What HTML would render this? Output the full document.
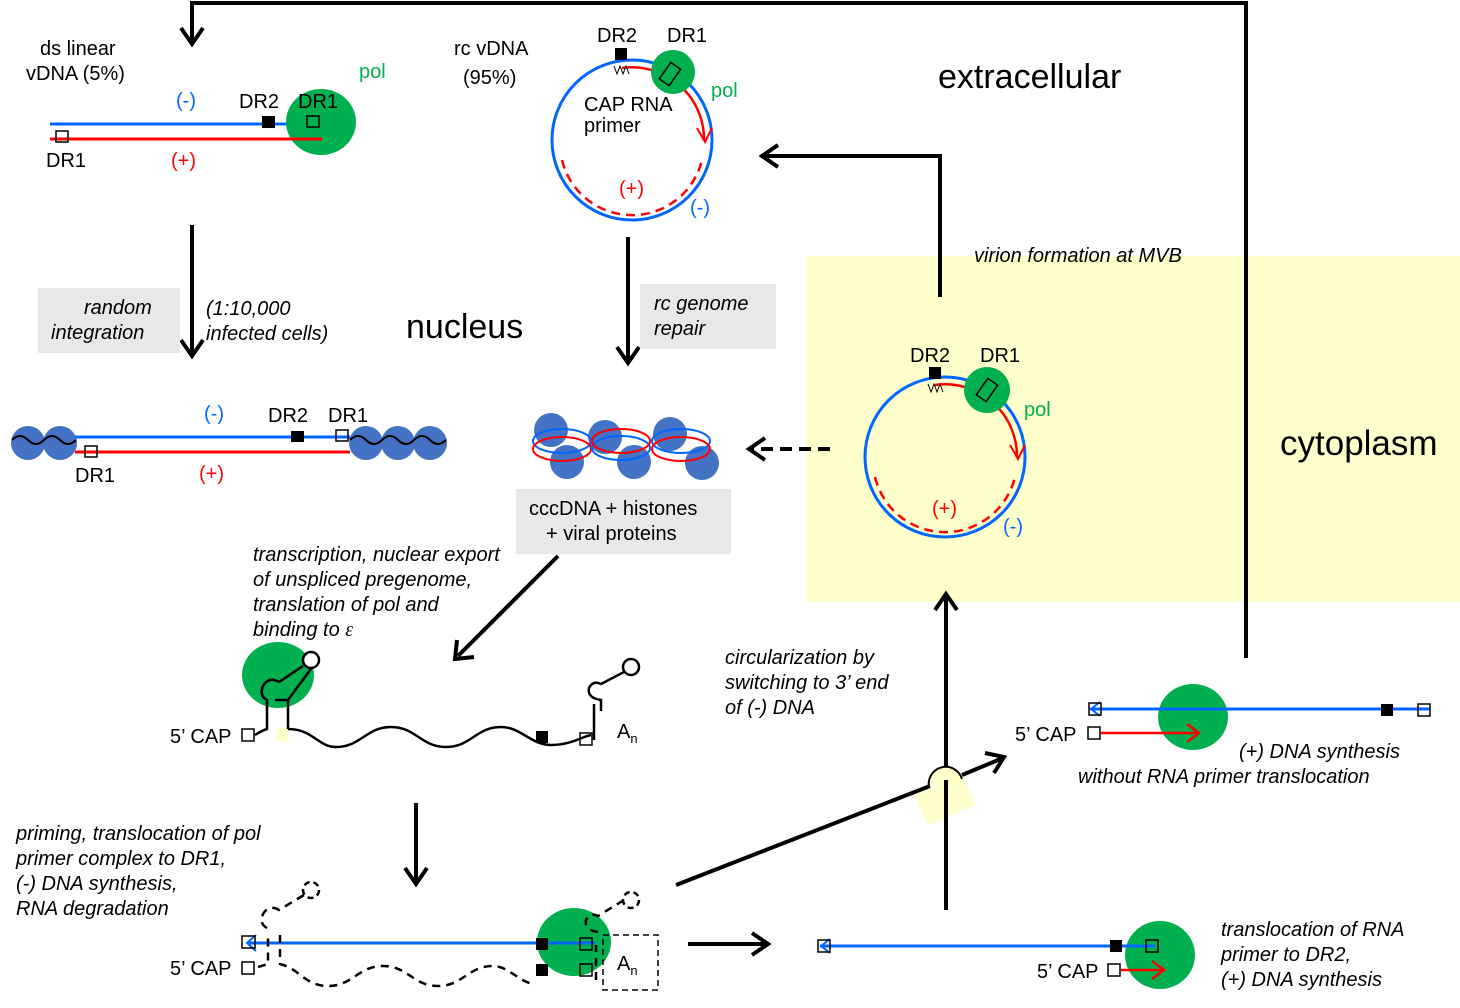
<!DOCTYPE html>
<html><head><meta charset="utf-8"><style>
html,body{margin:0;padding:0;background:#fff;}
svg{display:block;font-family:"Liberation Sans",sans-serif;}
.t{font-size:20px;fill:#000}
.i{font-size:20px;font-style:italic;fill:#000}
.b{fill:#0066ff;font-size:20px}
.r{fill:#ff0000;font-size:20px}
.g{fill:#00b050;font-size:20px}
</style></head><body>
<svg width="1460" height="1008" viewBox="0 0 1460 1008" xmlns="http://www.w3.org/2000/svg">
<rect x="806" y="256" width="654" height="346" fill="#ffffcc"/>

<polyline points="1246,658 1246,3 192,3 192,42" fill="none" stroke="#000" stroke-width="4"/>
<polyline points="181,28 192,44 203,28" fill="none" stroke="#000" stroke-width="4"/>

<text class="t" x="40" y="55">ds linear</text>
<text class="t" x="26" y="80">vDNA (5%)</text>
<line x1="50" y1="124" x2="300" y2="124" stroke="#0066ff" stroke-width="3"/>
<ellipse cx="321" cy="122" rx="35" ry="33" fill="#00b050"/>
<line x1="50" y1="139" x2="322" y2="139" stroke="#ff0000" stroke-width="3"/>
<rect x="262" y="116" width="13" height="12" fill="#000"/>
<rect x="307" y="116" width="12" height="11" fill="none" stroke="#000" stroke-width="1.5"/>
<rect x="56" y="131" width="12" height="11" fill="none" stroke="#000" stroke-width="1.5"/>
<text class="b" x="176" y="107">(-)</text>
<text class="t" x="239" y="108">DR2</text>
<text class="t" x="298" y="108">DR1</text>
<text class="g" x="359" y="78">pol</text>
<text class="t" x="46" y="167">DR1</text>
<text class="r" x="171" y="167">(+)</text>

<text class="t" x="454" y="55">rc vDNA</text>
<text class="t" x="463" y="84">(95%)</text>
<circle cx="632" cy="140" r="80" fill="none" stroke="#0066ff" stroke-width="3"/>
<path d="M622,68 A72,72 0 0 1 704,140" fill="none" stroke="#ff0000" stroke-width="2.5"/>
<polyline points="697,128 705,142 712,128" fill="none" stroke="#ff0000" stroke-width="2"/>
<path d="M562,160 A72,72 0 0 0 702,160" fill="none" stroke="#ff0000" stroke-width="2.5" stroke-dasharray="9,6"/>
<circle cx="673" cy="72" r="22" fill="#00b050"/>
<rect x="664" y="64" width="12" height="20" transform="rotate(35 670 74)" fill="none" stroke="#000" stroke-width="1.5"/>
<rect x="615" y="48" width="12" height="12" fill="#000"/>
<path d="M614,66 l3,8 l3,-8 l3,8 l3,-8 l3,8" fill="none" stroke="#000" stroke-width="1"/>
<text class="t" x="597" y="42">DR2</text>
<text class="t" x="667" y="42">DR1</text>
<text class="g" x="711" y="97">pol</text>
<text class="t" x="584" y="111">CAP RNA</text>
<text class="t" x="584" y="132">primer</text>
<text class="r" x="619" y="195">(+)</text>
<text class="b" x="690" y="214">(-)</text>

<text x="938" y="88" style="font-size:34px">extracellular</text>
<text x="406" y="338" style="font-size:34px">nucleus</text>
<text x="1280" y="455" style="font-size:35px">cytoplasm</text>

<line x1="192" y1="225" x2="192" y2="354" stroke="#000" stroke-width="4"/>
<polyline points="181,340 192,356 203,340" fill="none" stroke="#000" stroke-width="4"/>
<rect x="38" y="288" width="142" height="65" fill="#e8e8e8"/>
<text class="i" x="84" y="314">random</text>
<text class="i" x="51" y="339">integration</text>
<text class="i" x="206" y="315">(1:10,000</text>
<text class="i" x="206" y="340">infected cells)</text>

<line x1="628" y1="237" x2="628" y2="361" stroke="#000" stroke-width="4"/>
<polyline points="617,347 628,363 639,347" fill="none" stroke="#000" stroke-width="4"/>
<rect x="640" y="284" width="136" height="65" fill="#e8e8e8"/>
<text class="i" x="654" y="310">rc genome</text>
<text class="i" x="654" y="335">repair</text>

<circle cx="28" cy="443" r="17" fill="#4472c4"/>
<circle cx="60" cy="443" r="17" fill="#4472c4"/>
<circle cx="366" cy="443" r="17" fill="#4472c4"/>
<circle cx="398" cy="443" r="17" fill="#4472c4"/>
<circle cx="430" cy="443" r="17" fill="#4472c4"/>
<path d="M12,440 q8,-8 16,0 t16,0 t16,0 t16,0 M350,440 q8,-8 16,0 t16,0 t16,0 t16,0 t16,0 t16,0" fill="none" stroke="#000" stroke-width="2"/>
<line x1="75" y1="437" x2="350" y2="437" stroke="#0066ff" stroke-width="3"/>
<line x1="75" y1="452" x2="350" y2="452" stroke="#ff0000" stroke-width="3"/>
<rect x="291" y="431" width="13" height="11" fill="#000"/>
<rect x="336" y="430" width="12" height="11" fill="none" stroke="#000" stroke-width="1.5"/>
<rect x="85" y="446" width="12" height="11" fill="none" stroke="#000" stroke-width="1.5"/>
<text class="b" x="204" y="420">(-)</text>
<text class="t" x="268" y="422">DR2</text>
<text class="t" x="328" y="422">DR1</text>
<text class="t" x="75" y="482">DR1</text>
<text class="r" x="199" y="480">(+)</text>

<g fill="#4472c4">
<circle cx="551" cy="430" r="17"/><circle cx="567" cy="462" r="17"/>
<circle cx="605" cy="437" r="17"/><circle cx="634" cy="462" r="17"/>
<circle cx="670" cy="434" r="17"/><circle cx="702" cy="463" r="17"/>
</g>
<g fill="none" stroke-width="2">
<ellipse cx="562" cy="441" rx="29" ry="12" stroke="#0066ff"/>
<ellipse cx="562" cy="449" rx="29" ry="12" stroke="#ff0000"/>
<ellipse cx="621" cy="448" rx="29" ry="12" stroke="#0066ff"/>
<ellipse cx="621" cy="441" rx="29" ry="12" stroke="#ff0000"/>
<ellipse cx="681" cy="441" rx="29" ry="12" stroke="#0066ff"/>
<ellipse cx="681" cy="449" rx="29" ry="12" stroke="#ff0000"/>
</g>
<rect x="516" y="489" width="215" height="65" fill="#e8e8e8"/>
<text class="t" x="529" y="515">cccDNA + histones</text>
<text class="t" x="546" y="540">+ viral proteins</text>

<line x1="830" y1="449" x2="752" y2="449" stroke="#000" stroke-width="4" stroke-dasharray="12,7"/>
<polyline points="765,438 749,449 765,460" fill="none" stroke="#000" stroke-width="4"/>

<polyline points="940,297 940,156 764,156" fill="none" stroke="#000" stroke-width="4"/>
<polyline points="778,145 762,156 778,167" fill="none" stroke="#000" stroke-width="4"/>
<text class="i" x="974" y="262">virion formation at MVB</text>

<circle cx="945" cy="457" r="80" fill="none" stroke="#0066ff" stroke-width="3"/>
<path d="M935,385 A72,72 0 0 1 1017,457" fill="none" stroke="#ff0000" stroke-width="2.5"/>
<polyline points="1010,445 1018,459 1025,445" fill="none" stroke="#ff0000" stroke-width="2"/>
<path d="M875,477 A72,72 0 0 0 1015,477" fill="none" stroke="#ff0000" stroke-width="2.5" stroke-dasharray="9,6"/>
<circle cx="987" cy="390" r="23" fill="#00b050"/>
<rect x="981" y="380" width="12" height="20" transform="rotate(35 987 390)" fill="none" stroke="#000" stroke-width="1.5"/>
<rect x="929" y="367" width="12" height="12" fill="#000"/>
<path d="M928,384 l3,8 l3,-8 l3,8 l3,-8 l3,8" fill="none" stroke="#000" stroke-width="1"/>
<text class="t" x="910" y="362">DR2</text>
<text class="t" x="980" y="362">DR1</text>
<text class="g" x="1024" y="416">pol</text>
<text class="r" x="932" y="515">(+)</text>
<text class="b" x="1003" y="533">(-)</text>

<line x1="946" y1="910" x2="946" y2="596" stroke="#000" stroke-width="4"/>
<polyline points="935,610 946,594 957,610" fill="none" stroke="#000" stroke-width="4"/>

<text class="i" x="253" y="561">transcription, nuclear export</text>
<text class="i" x="253" y="586">of unspliced pregenome,</text>
<text class="i" x="253" y="611">translation of pol and</text>
<text class="i" x="253" y="636">binding to <tspan font-family="Liberation Serif">ε</tspan></text>
<line x1="558" y1="556" x2="458" y2="656" stroke="#000" stroke-width="4"/>
<polyline points="457,640 455,659 474,657" fill="none" stroke="#000" stroke-width="4"/>

<!-- pgRNA -->
<ellipse cx="278" cy="675" rx="36" ry="33" fill="#00b050"/>
<rect x="276" y="728" width="13" height="13" fill="#ffffcc"/>
<g fill="none" stroke="#000" stroke-width="2.5">
<path d="M255,735 q8,-5 12,-6 L267,700 q-8,-4 -4,-14 q6,-10 16,-4 L303,666"/>
<path d="M288,729 L288,700 L275,700 M288,700 L313,666"/>
<path d="M288,729 c25,0 30,18 48,18 c25,0 30,-20 55,-20 c25,0 30,20 55,20 c25,0 30,-20 55,-20 c20,0 30,18 50,18 c20,0 30,-8 40,-10"/>
<path d="M594,740 L594,704 M601,711 L601,700 q-14,-2 -12,-12 q4,-8 12,-4 L624,672"/>
</g>
<circle cx="311" cy="660" r="8" fill="#fff" stroke="#000" stroke-width="2.5"/>
<circle cx="631" cy="667" r="8" fill="#fff" stroke="#000" stroke-width="2.5"/>
<rect x="536" y="731" width="12" height="12" fill="#000"/>
<rect x="580" y="733" width="12" height="12" fill="none" stroke="#000" stroke-width="1.5"/>
<rect x="242" y="729" width="12" height="12" fill="none" stroke="#000" stroke-width="1.5"/>
<text class="t" x="170" y="743">5’ CAP</text>
<text class="t" x="617" y="738">A<tspan font-size="13" dy="5">n</tspan></text>

<line x1="416" y1="803" x2="416" y2="882" stroke="#000" stroke-width="4"/>
<polyline points="405,868 416,884 427,868" fill="none" stroke="#000" stroke-width="4"/>

<text class="i" x="16" y="840">priming, translocation of pol</text>
<text class="i" x="16" y="865">primer complex to DR1,</text>
<text class="i" x="16" y="890">(-) DNA synthesis,</text>
<text class="i" x="16" y="915">RNA degradation</text>

<ellipse cx="574" cy="942" rx="37" ry="34" fill="#00b050"/>
<line x1="247" y1="943" x2="595" y2="943" stroke="#0066ff" stroke-width="3"/>
<polyline points="256,935 247,943 256,951" fill="none" stroke="#0066ff" stroke-width="2"/>
<rect x="242" y="936" width="13" height="12" fill="none" stroke="#000" stroke-width="1.5"/>
<rect x="536" y="938" width="12" height="12" fill="#000"/>
<rect x="580" y="938" width="12" height="12" fill="none" stroke="#000" stroke-width="1.5"/>
<rect x="536" y="964" width="12" height="12" fill="#000"/>
<rect x="580" y="964" width="12" height="12" fill="none" stroke="#000" stroke-width="1.5"/>
<rect x="242" y="962" width="12" height="12" fill="none" stroke="#000" stroke-width="1.5"/>
<rect x="603" y="935" width="55" height="55" fill="none" stroke="#000" stroke-width="1.5" stroke-dasharray="6,4"/>
<g fill="none" stroke="#000" stroke-width="2.5" stroke-dasharray="8,6">
<path d="M258,967 l10,-3 L268,935 M280,935 L280,964 c20,5 25,22 48,22 c25,0 30,-20 55,-20 c25,0 30,20 55,20 c25,0 30,-20 55,-20 c15,0 25,15 40,18"/>
<path d="M267,928 q-8,-4 -4,-14 q6,-10 16,-4 L304,895"/>
<path d="M598,932 q-14,-2 -12,-12 q4,-8 12,-4 L624,900"/>
<line x1="596" y1="980" x2="596" y2="945"/>
</g>
<circle cx="311" cy="890" r="8" fill="#fff" stroke="#000" stroke-width="2.5" stroke-dasharray="6,4"/>
<circle cx="631" cy="900" r="8" fill="#fff" stroke="#000" stroke-width="2.5" stroke-dasharray="6,4"/>
<text class="t" x="170" y="975">5’ CAP</text>
<text class="t" x="617" y="970">A<tspan font-size="13" dy="5">n</tspan></text>

<line x1="688" y1="944" x2="766" y2="944" stroke="#000" stroke-width="4"/>
<polyline points="752,933 768,944 752,955" fill="none" stroke="#000" stroke-width="4"/>

<polygon points="915,795 962,775 975,805 928,825" fill="#ffffcc"/>
<line x1="676" y1="885" x2="930" y2="786" stroke="#000" stroke-width="4"/>
<path d="M929,787 a17,17 0 0 1 33,-8" fill="#ffffcc" stroke="#000" stroke-width="2"/>
<line x1="962" y1="775" x2="1003" y2="758" stroke="#000" stroke-width="4"/>
<polyline points="985,753 1004,757 994,773" fill="none" stroke="#000" stroke-width="4"/>
<line x1="946" y1="780" x2="946" y2="910" stroke="#000" stroke-width="4"/>

<text class="i" x="725" y="664">circularization by</text>
<text class="i" x="725" y="689">switching  to 3’ end</text>
<text class="i" x="725" y="714"> of (-) DNA</text>

<ellipse cx="1193" cy="717" rx="35" ry="33" fill="#00b050"/>
<line x1="1090" y1="709" x2="1430" y2="709" stroke="#0066ff" stroke-width="3"/>
<polyline points="1100,702 1091,709 1100,716" fill="none" stroke="#0066ff" stroke-width="2"/>
<rect x="1089" y="703" width="12" height="12" fill="none" stroke="#000" stroke-width="1.5"/>
<rect x="1381" y="704" width="12" height="12" fill="#000"/>
<rect x="1418" y="704" width="12" height="12" fill="none" stroke="#000" stroke-width="1.5"/>
<rect x="1088" y="727" width="12" height="12" fill="none" stroke="#000" stroke-width="1.5"/>
<line x1="1101" y1="733" x2="1198" y2="733" stroke="#ff0000" stroke-width="2.5"/>
<polyline points="1187,724 1199,733 1187,742" fill="none" stroke="#ff0000" stroke-width="2.5"/>
<text class="t" x="1015" y="741">5’ CAP</text>
<text class="i" x="1239" y="758">(+) DNA synthesis</text>
<text class="i" x="1078" y="783">without RNA primer translocation</text>

<ellipse cx="1160" cy="955" rx="35" ry="34" fill="#00b050"/>
<line x1="820" y1="946" x2="1155" y2="946" stroke="#0066ff" stroke-width="3"/>
<polyline points="830,939 821,946 830,953" fill="none" stroke="#0066ff" stroke-width="2"/>
<rect x="818" y="940" width="12" height="12" fill="none" stroke="#000" stroke-width="1.5"/>
<rect x="1110" y="940" width="12" height="12" fill="#000"/>
<rect x="1146" y="940" width="12" height="12" fill="none" stroke="#000" stroke-width="1.5"/>
<rect x="1108" y="964" width="12" height="12" fill="none" stroke="#000" stroke-width="1.5"/>
<line x1="1121" y1="970" x2="1163" y2="970" stroke="#ff0000" stroke-width="2.5"/>
<polyline points="1152,961 1164,970 1152,979" fill="none" stroke="#ff0000" stroke-width="2.5"/>
<text class="t" x="1037" y="978">5’ CAP</text>
<text class="i" x="1221" y="936">translocation of RNA</text>
<text class="i" x="1221" y="961">primer to DR2,</text>
<text class="i" x="1221" y="986">(+) DNA synthesis</text>
</svg>
</body></html>
